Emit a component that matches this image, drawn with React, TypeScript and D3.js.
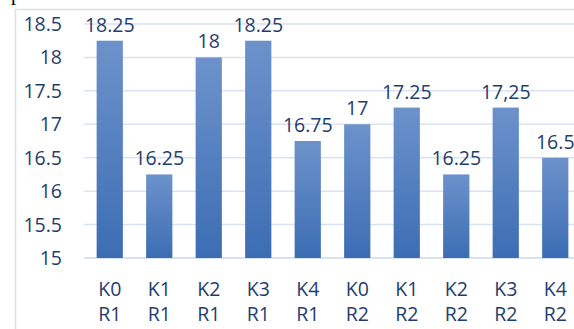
import React from "react";
import * as d3 from "d3";

const categories = ["K0 R1", "K1 R1", "K2 R1", "K3 R1", "K4 R1", "K0 R2", "K1 R2", "K2 R2", "K3 R2", "K4 R2"];
const values = [18.25, 16.25, 18, 18.25, 16.75, 17, 17.25, 16.25, 17.25, 16.5];
const valueLabels = ["18.25", "16.25", "18", "18.25", "16.75", "17", "17.25", "16.25", "17,25", "16.5"];
const yTicks = [15, 15.5, 16, 16.5, 17, 17.5, 18, 18.5];

const W = 574;
const H = 329;
const textColor = "#1f3d6e";
const gridColor = "#d9e2f1";
const font = "'Open Sans', 'Liberation Sans', Arial, sans-serif";
const fs = 19.5;

export default function App() {
  const x = d3.scaleBand<string>().domain(categories).range([85, 580]).paddingInner(0.47).paddingOuter(0.235);
  const y = d3.scaleLinear().domain([15, 18.5]).range([258, 24]);

  return (
    <div style={{ position: "absolute", left: 0, top: 0 }}>
      <svg width={W} height={H} style={{ display: "block", background: "#fff" }}>
        <defs>
          <linearGradient id="barGrad" x1="0" y1="0" x2="0" y2="1">
            <stop offset="0%" stopColor="#6d92cb" />
            <stop offset="100%" stopColor="#3c6db3" />
          </linearGradient>
        </defs>
        <text x={11} y={0} fontFamily="'Liberation Serif', serif" fontSize={20} fill="#000">p</text>
        <rect x={15.5} y={9.5} width={W + 20} height={H + 20} fill="none" stroke="#d6e0ee" strokeWidth={1.5} />
        {yTicks.map((t) => (
          <g key={t}>
            <line x1={84} x2={W} y1={y(t)} y2={y(t)} stroke={gridColor} strokeWidth={t === 15 ? 2 : 1.5} />
            <text x={62} y={y(t)} dy="0.36em" textAnchor="end" fontFamily={font} fontSize={fs} fill={textColor}>
              {t}
            </text>
          </g>
        ))}
        {categories.map((c, i) => {
          const bx = x(c)!;
          const bw = x.bandwidth();
          const top = y(values[i]);
          const cx = bx + bw / 2;
          const [l1, l2] = c.split(" ");
          return (
            <g key={c + i}>
              <rect x={bx} y={top} width={bw} height={y(15) - top} fill="url(#barGrad)" />
              <text x={cx} y={top - 9} textAnchor="middle" fontFamily={font} fontSize={fs} fill={textColor}>
                {valueLabels[i]}
              </text>
              <text x={cx} y={296} textAnchor="middle" fontFamily={font} fontSize={fs} fill={textColor}>
                {l1}
              </text>
              <text x={cx} y={321} textAnchor="middle" fontFamily={font} fontSize={fs} fill={textColor}>
                {l2}
              </text>
            </g>
          );
        })}
      </svg>
    </div>
  );
}
